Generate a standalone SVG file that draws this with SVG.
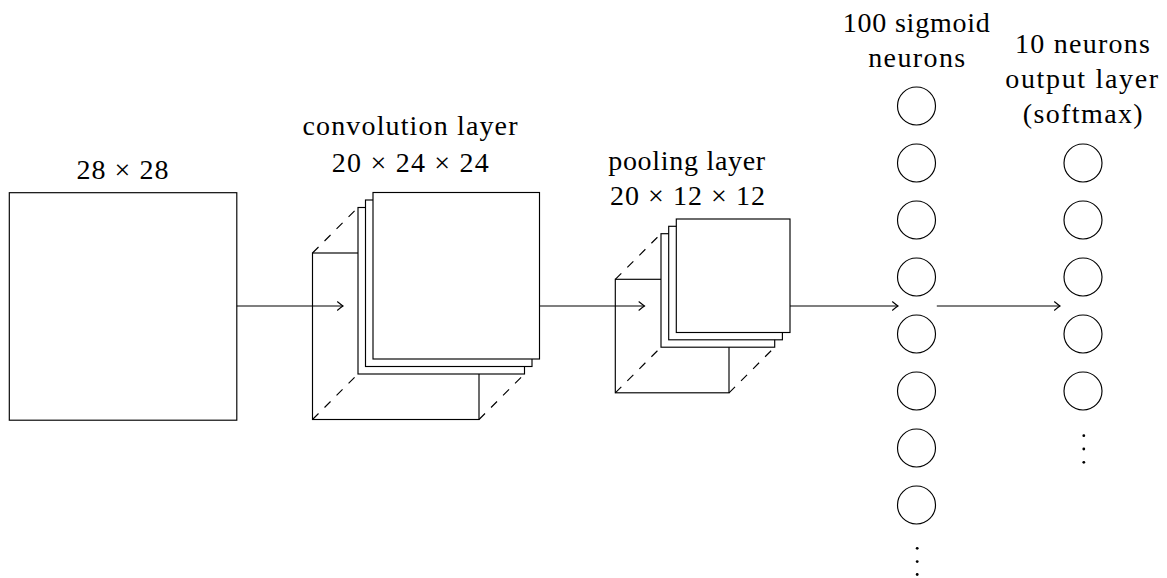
<svg xmlns="http://www.w3.org/2000/svg" width="1167" height="578" viewBox="0 0 1167 578">
<style>
.lbl{font-family:"Liberation Serif","Times New Roman",serif;font-size:28px;fill:#000;text-anchor:middle}
.box{fill:#fff;stroke:#000;stroke-width:1.15}
.open{fill:none;stroke:#000;stroke-width:1.15}
.dash{fill:none;stroke:#000;stroke-width:1.15;stroke-dasharray:8.5 8.5}
.neuron{fill:#fff;stroke:#000;stroke-width:1.15}
.conn{fill:none;stroke:#000;stroke-width:1.15;marker-end:url(#arr)}
.dot{fill:#000}
</style>
<defs>
<marker id="arr" markerUnits="userSpaceOnUse" markerWidth="12" markerHeight="12" viewBox="-8 -6 10 12" refX="0" refY="0" orient="auto">
<path d="M-5.5,-4.2 Q-1.6,-1 0,0 Q-1.6,1 -5.5,4.2" fill="none" stroke="#000" stroke-width="1.1" stroke-linecap="round"/>
</marker>
</defs>
<rect width="1167" height="578" fill="#fff"/>

<g id="input">
<rect class="box" x="9.3" y="192.7" width="227.5" height="227.5"/>
<text class="lbl" x="122.5" y="179.3" textLength="92">28 × 28</text>
</g>

<g id="conv">
<rect class="open" x="312.5" y="253" width="166.5" height="166.5"/>
<line class="dash" x1="312.5" y1="253" x2="358" y2="207.5"/>
<line class="dash" x1="312.5" y1="419.5" x2="358" y2="374"/>
<line class="dash" x1="479" y1="419.5" x2="524.5" y2="374"/>
<rect class="box" x="358" y="207.5" width="166.5" height="166.5"/>
<rect class="box" x="365.5" y="200" width="166.5" height="166.5"/>
<rect class="box" x="373" y="192.5" width="166.5" height="166.5"/>
<text class="lbl" x="410" y="135" textLength="215">convolution layer</text>
<text class="lbl" x="410.3" y="171.7" textLength="157">20 × 24 × 24</text>
</g>

<g id="pool">
<rect class="open" x="615.3" y="279.3" width="113.7" height="113.5"/>
<line class="dash" x1="615.3" y1="279.3" x2="661" y2="233.7"/>
<line class="dash" x1="615.3" y1="392.8" x2="661" y2="347.2"/>
<line class="dash" x1="729" y1="392.8" x2="774.7" y2="347.2"/>
<rect class="box" x="661" y="233.7" width="113.7" height="113.5"/>
<rect class="box" x="668.7" y="226.3" width="113.7" height="113.5"/>
<rect class="box" x="676.3" y="219" width="113.7" height="113.5"/>
<text class="lbl" x="686.7" y="169.5" textLength="157">pooling layer</text>
<text class="lbl" x="687.5" y="205.3" textLength="155">20 × 12 × 12</text>
</g>

<g id="hidden">
<text class="lbl" x="916.3" y="31.7" textLength="147">100 sigmoid</text>
<text class="lbl" x="916.7" y="66.7" textLength="97">neurons</text>
<circle class="neuron" cx="916.5" cy="106" r="19"/>
<circle class="neuron" cx="916.5" cy="163" r="19"/>
<circle class="neuron" cx="916.5" cy="220" r="19"/>
<circle class="neuron" cx="916.5" cy="277" r="19"/>
<circle class="neuron" cx="916.5" cy="334" r="19"/>
<circle class="neuron" cx="916.5" cy="391" r="19"/>
<circle class="neuron" cx="916.5" cy="448" r="19"/>
<circle class="neuron" cx="916.5" cy="505" r="19"/>
<circle class="dot" cx="917.2" cy="548.3" r="1.4"/>
<circle class="dot" cx="917.2" cy="561.6" r="1.4"/>
<circle class="dot" cx="917.2" cy="574.5" r="1.4"/>
</g>

<g id="output">
<text class="lbl" x="1082.5" y="53" textLength="135">10 neurons</text>
<text class="lbl" x="1081.7" y="88" textLength="153">output layer</text>
<text class="lbl" x="1082.7" y="123" textLength="120">(softmax)</text>
<circle class="neuron" cx="1083" cy="163" r="19"/>
<circle class="neuron" cx="1083" cy="220" r="19"/>
<circle class="neuron" cx="1083" cy="277" r="19"/>
<circle class="neuron" cx="1083" cy="334" r="19"/>
<circle class="neuron" cx="1083" cy="391" r="19"/>
<circle class="dot" cx="1083.8" cy="435.7" r="1.4"/>
<circle class="dot" cx="1083.8" cy="449" r="1.4"/>
<circle class="dot" cx="1083.8" cy="462.3" r="1.4"/>
</g>

<g id="connectors">
<line class="conn" x1="236.8" y1="306" x2="343" y2="306"/>
<line class="conn" x1="539.5" y1="306" x2="644.5" y2="306"/>
<line class="conn" x1="790" y1="306" x2="898" y2="306"/>
<line class="conn" x1="936.8" y1="306" x2="1060" y2="306"/>
</g>
</svg>
